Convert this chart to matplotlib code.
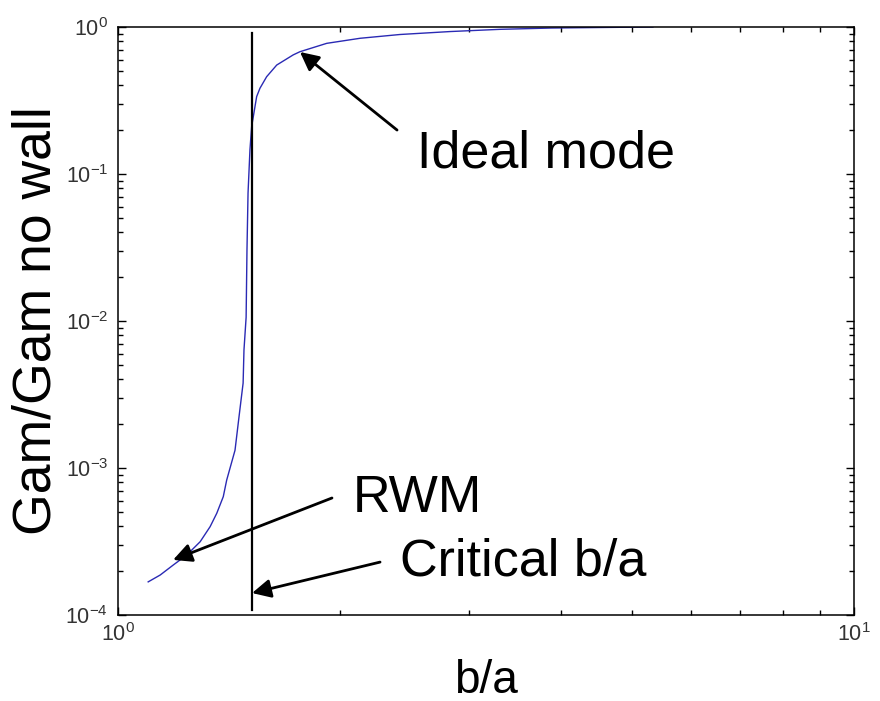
import matplotlib
matplotlib.use("Agg")
import matplotlib.pyplot as plt
from matplotlib.ticker import NullFormatter

plt.rcParams['font.family'] = ['Liberation Sans', 'DejaVu Sans']
plt.rcParams['mathtext.fontset'] = 'custom'
plt.rcParams['mathtext.rm'] = 'Liberation Sans'

# growth rate ratio vs wall position
b_over_a = [1.099, 1.141, 1.189, 1.240, 1.293, 1.334, 1.362, 1.390, 1.405, 1.442,
            1.460, 1.479, 1.483, 1.493, 1.497, 1.502, 1.511, 1.519, 1.543, 1.559,
            1.592, 1.643, 1.730, 1.767, 1.921, 2.133, 2.416, 2.826, 3.304, 3.888,
            4.52, 5.33]
gam_ratio = [1.68e-4, 1.87e-4, 2.19e-4, 2.56e-4, 3.15e-4, 3.99e-4, 4.92e-4, 6.38e-4,
             8.28e-4, 1.32e-3, 2.22e-3, 3.78e-3, 6.35e-3, 1.06e-2, 0.0304, 0.0743,
             0.146, 0.210, 0.336, 0.383, 0.459, 0.551, 0.646, 0.679, 0.774, 0.838,
             0.889, 0.931, 0.964, 0.984, 0.992, 1.0]

critical_ba = 1.52
critical_span = [1.08e-4, 0.91]

# annotations: label, text anchor, arrow tail, arrow tip
notes = [
    ("Ideal mode", (2.548, 0.110), (2.394, 0.199), (1.767, 0.676)),
    ("RWM", (2.086, 5.02e-4), (1.953, 6.25e-4), (1.188, 2.37e-4)),
    ("Critical b/a", (2.416, 1.87e-4), (2.270, 2.29e-4), (1.521, 1.41e-4)),
]

fig = plt.figure(figsize=(8.8, 7.01), dpi=100)
ax = fig.add_axes([0.1341, 0.1227, 0.8364, 0.8388])

ax.loglog(b_over_a, gam_ratio, color='#2a2ab4', lw=1.0)
ax.plot([critical_ba, critical_ba], critical_span, color='k', lw=1.6)

ax.set_xlim(1, 10)
ax.set_ylim(1e-4, 1)
ax.xaxis.set_minor_formatter(NullFormatter())
ax.yaxis.set_minor_formatter(NullFormatter())

for label, txt, tail, tip in notes:
    ax.annotate('', xy=tip, xytext=tail,
                arrowprops=dict(arrowstyle='-|>', color='k', lw=2.0,
                                mutation_scale=28, shrinkA=0, shrinkB=0))
    ax.text(txt[0], txt[1], label, fontsize=37.5, ha='left', va='baseline')

ax.tick_params(which='both', direction='in', top=True, right=True,
               labelsize=15.5, labelcolor='#333333', width=1.0)
ax.tick_params(which='major', length=6)
ax.tick_params(which='minor', length=3.5)
ax.tick_params(axis='x', pad=6)
ax.tick_params(axis='y', pad=7)
for sp in ax.spines.values():
    sp.set_linewidth(1.1)

ax.set_xlabel('b/a', fontsize=33, labelpad=9)
ax.set_ylabel('Gam/Gam no wall', fontsize=38.5, labelpad=3)

fig.savefig('out.png', dpi=100)
